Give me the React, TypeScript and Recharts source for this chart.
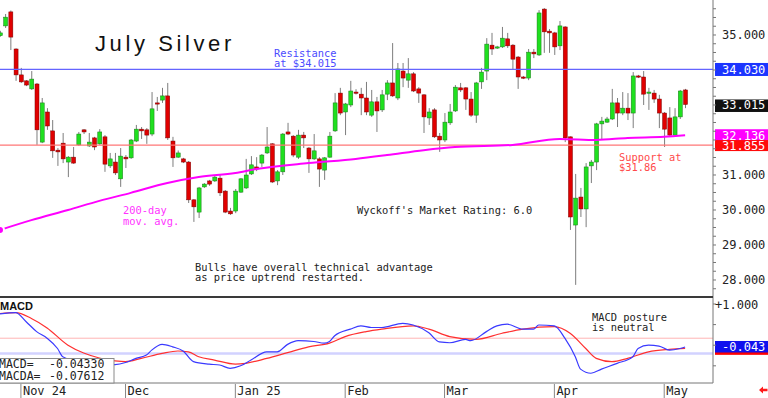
import React from 'react';
import { ComposedChart, Bar, Line, XAxis, YAxis, ReferenceLine } from 'recharts';

// Daily July silver futures, Oct 28 2024 .. May 7 2025 (index = trading day)
const opens = [
  34.98, 35.26, 35.66, 34.6, 33.86, 33.69, 33.46, 33.6, 31.94, 32.8,
  32.26, 31.71, 31.91, 31.37, 31.51, 31.86, 32.29, 31.83, 32.06, 31.89,
  32.09, 31.26, 31.37, 30.89, 31.51, 31.49, 31.97, 32.31, 32.29, 32.17,
  33.06, 33.14, 33.26, 31.97, 31.51, 31.46, 31.37, 30.29, 29.94, 30.66,
  30.83, 30.83, 30.91, 30.54, 29.97, 29.97, 30.51, 30.63, 31.03, 31.23,
  31.34, 31.63, 31.89, 30.83, 31.09, 32.23, 32.11, 31.51, 32.14, 31.77,
  31.46, 31.46, 31.14, 31.51, 32.26, 33.34, 32.8, 33.0, 33.37, 33.31,
  33.2, 32.71, 33.09, 32.86, 33.31, 33.63, 33.2, 33.97, 33.71, 33.89,
  33.46, 33.29, 32.63, 32.86, 32.11, 32.0, 32.49, 32.83, 33.49, 33.49,
  33.17, 32.71, 33.66, 33.97, 34.71, 34.63, 34.66, 34.89, 34.71, 34.37,
  33.8, 33.77, 34.51, 34.43, 35.74, 35.11, 35.06, 34.69, 35.23, 32.09,
  29.57, 30.37, 30.03, 31.26, 31.37, 32.46, 32.51, 32.6, 33.06, 32.77,
  32.91, 32.77, 33.83, 33.8, 33.34, 33.34, 33.17, 32.77, 32.63, 32.14,
  32.66, 33.43,
];
const highs = [
  35.12, 35.6, 35.7, 34.62, 34.06, 33.71, 33.97, 33.63, 33.2, 32.91,
  32.57, 31.77, 32.2, 31.54, 31.8, 32.23, 32.31, 32.2, 32.09, 32.31,
  32.14, 31.63, 31.63, 31.77, 31.57, 32.03, 32.43, 32.37, 32.34, 33.37,
  33.23, 33.49, 33.63, 32.09, 31.7, 31.49, 31.4, 30.31, 30.66, 30.77,
  30.86, 31.0, 31.0, 30.57, 30.06, 30.6, 30.91, 31.46, 31.54, 31.51,
  31.6, 32.37, 31.91, 31.14, 32.2, 32.49, 32.14, 32.29, 32.23, 31.8,
  32.17, 31.51, 31.51, 32.23, 33.34, 33.49, 33.06, 33.69, 33.45, 33.49,
  33.66, 33.43, 33.23, 33.43, 33.71, 34.77, 34.2, 34.2, 34.34, 33.94,
  33.51, 33.31, 32.91, 32.91, 32.2, 32.77, 33.03, 33.57, 33.63, 33.51,
  33.37, 33.66, 34.06, 34.91, 35.06, 34.69, 35.23, 35.06, 34.74, 34.4,
  33.83, 34.6, 34.6, 35.71, 35.77, 35.17, 35.09, 35.4, 35.25, 32.1,
  31.03, 30.63, 31.34, 31.43, 32.49, 32.66, 32.66, 33.46, 33.2, 33.37,
  33.34, 33.94, 33.86, 33.97, 33.49, 33.43, 33.29, 32.8, 32.94, 32.91,
  33.43, 33.46,
];
const lows = [
  34.95, 35.2, 34.57, 33.69, 33.63, 33.54, 33.43, 31.86, 31.91, 32.29,
  31.49, 31.26, 31.34, 30.94, 31.32, 31.83, 32.17, 31.8, 31.71, 31.86,
  31.09, 31.2, 31.0, 30.66, 31.2, 31.46, 31.94, 32.03, 31.89, 32.11,
  32.83, 33.06, 32.0, 31.23, 31.49, 31.34, 30.2, 29.66, 29.77, 30.63,
  30.69, 30.8, 30.4, 29.91, 29.86, 29.91, 30.49, 30.6, 31.0, 31.11,
  31.23, 31.6, 30.77, 30.71, 31.0, 32.14, 31.51, 31.46, 31.77, 31.06,
  31.43, 30.66, 30.86, 31.49, 32.23, 32.71, 32.14, 32.94, 33.3, 32.71,
  32.71, 32.66, 32.23, 32.8, 33.14, 33.23, 33.14, 33.51, 33.49, 33.37,
  33.06, 32.2, 32.43, 32.06, 31.66, 31.94, 32.43, 32.8, 33.37, 32.86,
  32.66, 32.49, 33.46, 33.71, 34.43, 34.6, 34.63, 34.63, 34.0, 33.46,
  33.74, 33.71, 34.34, 34.4, 34.49, 34.49, 34.43, 34.57, 31.94, 29.43,
  27.86, 29.8, 29.51, 30.77, 31.14, 32.0, 32.49, 32.57, 32.37, 32.71,
  32.57, 32.34, 33.77, 33.0, 32.86, 33.06, 32.34, 31.8, 32.09, 32.09,
  32.6, 32.91,
];
const closes = [
  35.06, 35.51, 34.94, 33.86, 33.66, 33.57, 33.74, 32.29, 33.06, 32.4,
  31.69, 31.66, 31.46, 31.51, 31.34, 32.17, 32.23, 31.94, 31.8, 32.23,
  31.31, 31.46, 31.06, 31.54, 31.46, 32.0, 32.31, 32.26, 32.14, 32.89,
  33.03, 33.26, 32.06, 31.49, 31.63, 31.37, 30.29, 30.09, 30.63, 30.74,
  30.74, 30.94, 30.49, 29.94, 29.89, 30.54, 30.89, 31.0, 31.29, 31.17,
  31.57, 31.8, 30.8, 31.09, 32.17, 32.17, 31.57, 32.14, 32.06, 31.46,
  31.69, 31.17, 31.49, 32.11, 33.06, 32.77, 33.03, 33.4, 33.34, 33.2,
  32.8, 33.09, 32.83, 33.29, 33.63, 33.26, 34.03, 33.77, 33.89, 33.4,
  33.34, 32.66, 32.8, 32.09, 32.0, 32.51, 32.8, 33.51, 33.43, 33.17,
  32.71, 33.63, 33.94, 34.74, 34.6, 34.66, 34.91, 34.69, 34.31, 33.8,
  33.77, 34.51, 34.46, 35.63, 35.09, 35.06, 34.66, 35.26, 32.06, 29.8,
  30.34, 30.03, 31.23, 31.37, 32.46, 32.54, 32.6, 33.06, 32.77, 32.91,
  32.77, 33.83, 33.8, 33.31, 33.37, 33.17, 32.77, 32.31, 32.14, 32.66,
  33.4, 33.015,
];

// 200-day moving average (read points)
const maIdx = [0, 6, 13, 19, 25, 32, 38, 45, 49, 59, 68, 74, 81, 87, 98, 107, 114, 120, 127, 131];
const maVal = [29.43, 29.71, 30.0, 30.26, 30.49, 30.77, 30.94, 31.06, 31.17, 31.34, 31.46, 31.57, 31.71, 31.8, 31.86, 32.03, 32.0, 32.06, 32.09, 32.136];

// MACD (blue) read points
const macdIdx = [0, 3, 5, 7, 9, 11, 12, 16, 19, 22, 24, 26, 28, 29, 31, 33, 35, 37, 40, 42, 44, 46, 48, 51, 53, 55, 57, 60, 62, 63, 64, 67, 69, 71, 73, 77, 79, 82, 84, 86, 89, 90, 93, 95, 97, 100, 102, 103, 106, 108, 110, 111, 113, 115, 118, 121, 122, 124, 126, 128, 130, 131];
const macdVal = [0.76, 0.79, 0.57, 0.33, 0.17, -0.08, -0.28, -0.42, -0.48, -0.47, -0.42, -0.32, -0.24, -0.12, 0.02, -0.04, -0.14, -0.4, -0.46, -0.48, -0.56, -0.5, -0.36, -0.16, -0.16, 0.02, 0.11, 0.09, 0.05, 0.09, 0.23, 0.39, 0.47, 0.43, 0.43, 0.53, 0.49, 0.3, 0.08, 0.06, 0.14, 0.11, 0.33, 0.47, 0.51, 0.39, 0.39, 0.49, 0.47, 0.17, -0.28, -0.58, -0.68, -0.58, -0.44, -0.28, -0.08, 0.0, -0.02, -0.12, -0.08, -0.043];

// MACDA / signal (red) read points
const sigIdx = [0, 3, 6, 9, 13, 16, 19, 22, 24, 27, 31, 34, 36, 38, 41, 45, 47, 51, 55, 59, 63, 66, 70, 73, 79, 82, 86, 91, 96, 100, 106, 109, 112, 114, 117, 120, 124, 128, 131];
const sigVal = [0.77, 0.79, 0.65, 0.42, 0.0, -0.19, -0.31, -0.38, -0.4, -0.32, -0.2, -0.14, -0.16, -0.28, -0.36, -0.46, -0.44, -0.32, -0.18, -0.04, 0.05, 0.21, 0.33, 0.39, 0.47, 0.39, 0.21, 0.14, 0.29, 0.39, 0.45, 0.29, -0.08, -0.32, -0.4, -0.32, -0.16, -0.1, -0.076];

const monthIdx = [4, 24, 45, 66, 85, 106, 127];
const monthLabels = ['Nov 24', 'Dec', 'Jan 25', 'Feb', 'Mar', 'Apr', 'May'];

const priceTicks = [27.75, 28, 28.25, 28.5, 28.75, 29, 29.25, 29.5, 29.75, 30, 30.25, 30.5, 30.75, 31, 31.25, 31.5, 31.75, 32, 32.25, 32.5, 32.75, 33, 33.25, 33.5, 33.75, 34, 34.25, 34.5, 34.75, 35, 35.25, 35.5, 35.75];
const priceLabelTicks = [28, 29, 30, 31, 35];
const macdTicks = [-0.5, 0, 0.5, 1];

const resistance = 34.015;
const support = 31.855;
const lastClose = 33.015;
const lastMa = 32.136;
const lastMacd = -0.043;
const lastMacda = -0.076;

const X_MAX = 136.33;
const FONT = '"Liberation Sans", Arial, sans-serif';
const MONO = '"DejaVu Sans Mono", "Liberation Mono", monospace';

const pick = (idx: number[], val: number[], i: number) => {
  const k = idx.indexOf(i);
  return k >= 0 ? val[k] : null;
};

const priceRows = opens.map((o, i) => ({
  i,
  open: o,
  high: highs[i],
  low: lows[i],
  close: closes[i],
  range: [lows[i], highs[i]],
  ma: pick(maIdx, maVal, i),
}));

const macdRows = opens.map((_, i) => ({
  i,
  macd: pick(macdIdx, macdVal, i),
  sig: pick(sigIdx, sigVal, i),
}));

const Candle = (props: any) => {
  const { x, y, width, height } = props;
  const p = props.payload || props;
  if (x == null || y == null || !p || p.high == null) return null;
  const top = Math.min(y, y + height);
  const h = Math.abs(height);
  const span = p.high - p.low || 1;
  const toY = (v: number) => top + ((p.high - v) / span) * h;
  const cx = x + width / 2;
  const up = p.close >= p.open;
  const bt = toY(Math.max(p.open, p.close));
  const bb = toY(Math.min(p.open, p.close));
  return (
    <g>
      <line x1={cx} x2={cx} y1={top} y2={top + h} stroke="#7d7d7d" strokeWidth={1} />
      <rect
        x={cx - 2}
        y={bt}
        width={4}
        height={Math.max(1.2, bb - bt)}
        fill={up ? '#1fe01f' : '#e00000'}
        stroke={up ? '#1a7a1a' : '#7a0000'}
        strokeWidth={0.5}
      />
    </g>
  );
};

const PriceTick = (props: any) => {
  const { x, y, payload } = props;
  const v = payload.value as number;
  const major = priceLabelTicks.indexOf(v) >= 0;
  return (
    <g>
      <line x1={x} x2={x + 3} y1={y} y2={y} stroke="#777" />
      {major && (
        <text x={x + 9} y={y + 4.5} fontSize={12} fill="#222" fontFamily={MONO}>
          {v.toFixed(3)}
        </text>
      )}
    </g>
  );
};

const MacdTick = (props: any) => {
  const { x, y, payload } = props;
  const v = payload.value as number;
  return (
    <g>
      <line x1={x} x2={x + 3} y1={y} y2={y} stroke="#777" />
      {v === 1 && (
        <text x={x + 2} y={y + 4.5} fontSize={12} fill="#222" fontFamily={MONO}>
          +1.000
        </text>
      )}
    </g>
  );
};

const DateTick = (props: any) => {
  const { x, y, payload } = props;
  const k = monthIdx.indexOf(payload.value);
  return (
    <g>
      <line x1={x} x2={x} y1={y + 1} y2={y + 15} stroke="#888" />
      <text x={x + 2} y={y + 11.5} fontSize={12} fill="#222" fontFamily={MONO}>
        {k >= 0 ? monthLabels[k] : ''}
      </text>
    </g>
  );
};

const valueBox = (text: string, bg: string, fg: string, up: number, down: number) => (props: any) => {
  const vb = props.viewBox || {};
  const ax = (vb.x ?? 0) + (vb.width ?? 0);
  const y = vb.y ?? 0;
  return (
    <g>
      <rect x={ax + 2} y={y - up} width={55} height={up + down} fill={bg} />
      <text x={ax + 9} y={y + 4.5} fontSize={12} fill={fg} fontFamily={MONO}>
        {text}
      </text>
    </g>
  );
};

const hiddenLine = { stroke: '#ffffff', strokeOpacity: 0, strokeWidth: 0 };

export default function App() {
  return (
    <div style={{ position: 'absolute', left: 0, top: 0, width: 768, height: 398, background: '#fff', overflow: 'hidden' }}>
      <div style={{ position: 'absolute', left: 0, top: 0 }}>
        <ComposedChart width={768} height={297} data={priceRows} margin={{ top: 0, right: 0, bottom: 0, left: 0 }}>
          <XAxis dataKey="i" type="number" domain={[0, X_MAX]} allowDataOverflow hide />
          <YAxis
            orientation="right"
            width={55}
            type="number"
            domain={[27.514, 36]}
            allowDataOverflow
            ticks={priceTicks}
            interval={0}
            tick={PriceTick}
            tickSize={0}
            tickMargin={0}
            tickLine={false}
            axisLine={{ stroke: '#777' }}
          />
          <ReferenceLine y={support} stroke="#ff7676" strokeWidth={1.2} />
          <ReferenceLine
            y={resistance}
            stroke="#6464ff"
            strokeWidth={1.3}
            label={valueBox('34.030', '#1c35ff', '#ffffff', 6.5, 6.5)}
          />
          <Bar dataKey="range" barSize={4} shape={Candle} isAnimationActive={false} />
          <Line dataKey="ma" type="monotone" stroke="#ff00ff" strokeWidth={2} dot={false} connectNulls isAnimationActive={false} />
          <ReferenceLine y={lastClose} {...hiddenLine} label={valueBox('33.015', '#111111', '#ffffff', 5, 7.5)} />
          <ReferenceLine y={lastMa} {...hiddenLine} label={valueBox('32.136', '#ff00ff', '#ffffff', 6, 6)} />
          <ReferenceLine y={support} {...hiddenLine} label={valueBox('31.855', '#ff0a0a', '#ffffff', 5, 6)} />
        </ComposedChart>
      </div>
      <div style={{ position: 'absolute', left: 0, top: 297 }}>
        <ComposedChart width={768} height={101} data={macdRows} margin={{ top: 0, right: 0, bottom: 0, left: 0 }}>
          <XAxis
            dataKey="i"
            type="number"
            domain={[0, X_MAX]}
            allowDataOverflow
            ticks={monthIdx}
            interval={0}
            height={15}
            tick={DateTick}
            tickSize={0}
            tickMargin={0}
            tickLine={false}
            axisLine={{ stroke: '#777' }}
          />
          <YAxis
            orientation="right"
            width={55}
            type="number"
            domain={[-0.917, 1.17]}
            allowDataOverflow
            ticks={macdTicks}
            interval={0}
            tick={MacdTick}
            tickSize={0}
            tickMargin={0}
            tickLine={false}
            axisLine={{ stroke: '#777' }}
          />
          <ReferenceLine y={0.17} stroke="#ffb4b4" strokeWidth={1} />
          <ReferenceLine y={-0.2} stroke="#d2d2ff" strokeWidth={2.5} />
          <Line dataKey="sig" type="monotone" stroke="#ff3030" strokeWidth={1.2} dot={false} connectNulls isAnimationActive={false} />
          <Line dataKey="macd" type="monotone" stroke="#3a3aff" strokeWidth={1.2} dot={false} connectNulls isAnimationActive={false} />
          <ReferenceLine y={lastMacda} {...hiddenLine} label={valueBox('', '#ff0000', '#ffffff', 6.5, 6.5)} />
          <ReferenceLine y={lastMacd} {...hiddenLine} label={valueBox('-0.043', '#1010ee', '#ffffff', 6, 5.5)} />
        </ComposedChart>
      </div>
      <svg width={768} height={398} style={{ position: 'absolute', left: 0, top: 0, pointerEvents: 'none' }}>
        <line x1={0} x2={713} y1={297} y2={297} stroke="#3a3a3a" strokeWidth={2} />
        <text x={95} y={51} fontSize={22} letterSpacing={3.6} fill="#111" fontFamily={FONT}>July Silver</text>
        <g fontSize={10.4} fontFamily={MONO}>
          <text x={274} y={56.5} fill="#4b4bff">Resistance</text>
          <text x={274} y={66.5} fill="#4b4bff">at $34.015</text>
          <text x={123} y={214} fill="#ff33ff">200-day</text>
          <text x={123} y={224.5} fill="#ff33ff">mov. avg.</text>
          <text x={619} y={160.5} fill="#ff4a4a">Support at</text>
          <text x={619} y={170.5} fill="#ff4a4a">$31.86</text>
          <text x={357} y={214} fill="#222">Wyckoff's Market Rating: 6.0</text>
          <text x={195} y={270.5} fill="#222">Bulls have overall technical advantage</text>
          <text x={195} y={280.5} fill="#222">as price uptrend restarted.</text>
          <text x={592} y={321} fill="#222">MACD posture</text>
          <text x={592} y={331} fill="#222">is neutral</text>
        </g>
        <text x={0} y={310} fontSize={11} fontWeight="bold" fill="#111" fontFamily={FONT}>MACD</text>
        <rect x={-1} y={358.5} width={115} height={24.5} fill="#fff" stroke="#8a8a8a" />
        <g fontSize={11.5} fill="#222" fontFamily={MONO}>
          <text x={-1} y={368}>MACD=</text>
          <text x={49} y={368}>-0.04330</text>
          <text x={-1} y={380}>MACDA=</text>
          <text x={49} y={380}>-0.07612</text>
        </g>
        <polygon points="759,390 763,386.5 763,388.8 767.5,388.8 767.5,391.2 763,391.2 763,393.5" fill="#ff1a1a" />
      </svg>
    </div>
  );
}
